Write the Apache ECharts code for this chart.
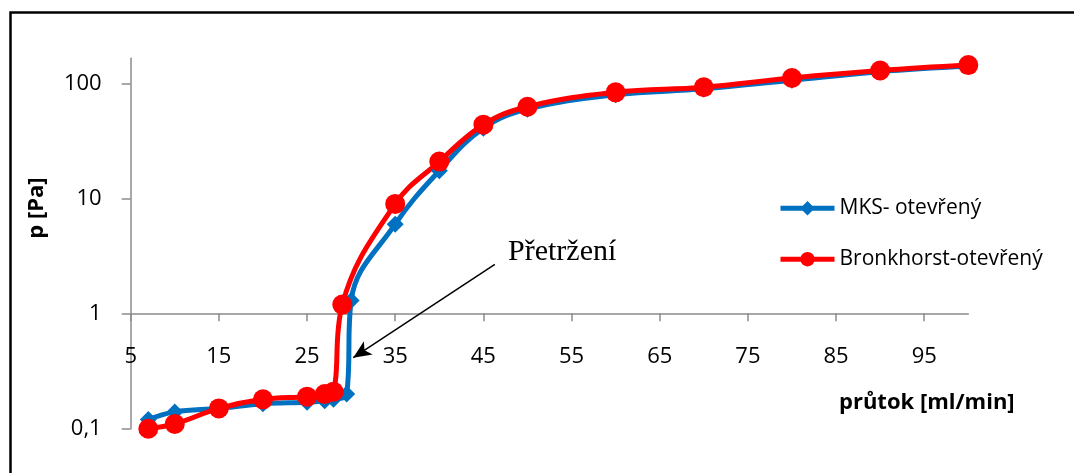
<!DOCTYPE html>
<html>
<head>
<meta charset="utf-8">
<script src="https://cdn.jsdelivr.net/npm/echarts@6/dist/echarts.min.js"></script>
<style>html,body{margin:0;padding:0;background:#fff;}#c{width:1074px;height:473px;}</style>
</head>
<body>
<div id="c"></div>
<script>
// průtok [ml/min] / p [Pa]
const mksFlow = [7, 10, 15, 20, 25, 27, 28, 29.5, 30, 35, 40, 45, 50, 60, 70, 80, 90, 100];
const mksP    = [0.12, 0.14, 0.15, 0.165, 0.17, 0.175, 0.18, 0.2, 1.3, 6, 17.5, 41, 60, 80, 90, 107, 127, 142];
const brFlow  = [7, 10, 15, 20, 25, 27, 28, 29, 35, 40, 45, 50, 60, 70, 80, 90, 100];
const brP     = [0.1, 0.11, 0.15, 0.18, 0.19, 0.2, 0.21, 1.2, 9, 21, 44, 63, 84, 93, 112, 130, 145];
const xTicks  = [5, 15, 25, 35, 45, 55, 65, 75, 85, 95];
const yTicks  = [0.1, 1, 10, 100];
const seriesNames = ['MKS- otevřený', 'Bronkhorst-otevřený'];
const arrowFrom = [46.3, 2.68];
const arrowTo   = [30.24, 0.414];
const annotationText = 'Přetržení';

const zip = (a, b) => a.map((v, i) => [v, b[i]]);
const font = '"Open Sans", "Noto Sans", sans-serif';

const chart = echarts.init(document.getElementById('c'), null, {renderer: 'canvas'});
chart.setOption({
  animation: false,
  backgroundColor: '#ffffff',
  grid: {left: 130.7, right: 105.7, top: 58.3, bottom: 44.3},
  xAxis: {
    type: 'value', min: 5, max: 100, interval: 10,
    position: 'bottom', offset: -115.4,
    axisLine: {show: true, onZero: false, lineStyle: {color: '#8c8c8c', width: 1.5}},
    axisTick: {show: true, length: 8, lineStyle: {color: '#8c8c8c', width: 1.5}, customValues: xTicks},
    axisLabel: {customValues: xTicks, margin: 32, color: '#000', fontSize: 22, fontFamily: font},
    splitLine: {show: false}
  },
  yAxis: {
    type: 'log', logBase: 10, min: 0.1, max: 166,
    axisLine: {show: true, lineStyle: {color: '#8c8c8c', width: 1.5}},
    axisTick: {show: true, length: 9, lineStyle: {color: '#8c8c8c', width: 1.5}, customValues: yTicks},
    axisLabel: {customValues: yTicks, margin: 29, color: '#000', fontSize: 22, fontFamily: font,
      formatter: v => String(v).replace('.', ',')},
    splitLine: {show: false}
  },
  legend: {
    orient: 'vertical', left: 773, top: 192.7,
    itemWidth: 54, itemHeight: 18, itemGap: 30,
    lineStyle: {width: 5},
    textStyle: {color: '#000', fontSize: 21, fontFamily: font, padding: [0, 0, 0, 0]},
    data: seriesNames
  },
  series: [
    {
      name: seriesNames[0], type: 'line', data: zip(mksFlow, mksP),
      smooth: 0.4,
      symbol: 'diamond', symbolSize: 17,
      itemStyle: {color: '#0070C0'},
      lineStyle: {color: '#0070C0', width: 5}
    },
    {
      name: seriesNames[1], type: 'line', data: zip(brFlow, brP),
      smooth: 0.4,
      symbol: 'circle', symbolSize: 20,
      itemStyle: {color: '#FF0000'},
      lineStyle: {color: '#FF0000', width: 5},
      markLine: {
        silent: true, animation: false,
        symbol: ['none', 'arrow'], symbolSize: [12, 18],
        lineStyle: {color: '#000', width: 1.5, type: 'solid'},
        label: {show: false},
        data: [[{coord: arrowFrom}, {coord: arrowTo}]]
      }
    }
  ],
  graphic: [
    {type: 'rect', left: 8, top: 10, silent: true,
      shape: {width: 1080, height: 480},
      style: {fill: 'none', stroke: '#000', lineWidth: 2.5}},
    {type: 'text', x: 37, y: 208, rotation: Math.PI / 2, silent: true,
      style: {text: 'p [Pa]', fill: '#000', font: 'bold 22px ' + font, align: 'center', verticalAlign: 'middle'}},
    {type: 'text', x: 839, y: 403, silent: true,
      style: {text: 'průtok [ml/min]', fill: '#000', font: 'bold 22px ' + font, align: 'left', verticalAlign: 'middle'}},
    {type: 'text', x: 508, y: 252, silent: true,
      style: {text: annotationText, fill: '#000', font: '30px "Liberation Serif", "Times New Roman", serif', align: 'left', verticalAlign: 'middle'}}
  ]
});
</script>
</body>
</html>
